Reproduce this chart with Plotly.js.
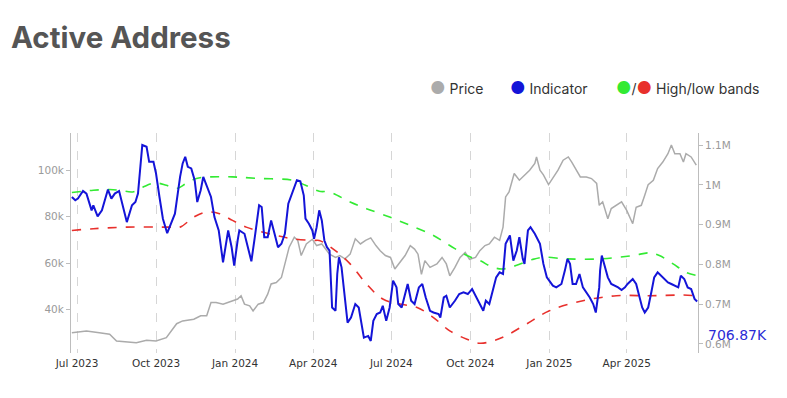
<!DOCTYPE html>
<html>
<head>
<meta charset="utf-8">
<script src="https://cdn.plot.ly/plotly-3.0.1.min.js"></script>
<style>html,body{margin:0;padding:0;background:#fff;}#chart{width:787px;height:398px;}</style>
</head>
<body>
<div id="chart"></div>
<script>
// ---- Data ----
const chartTitle = 'Active Address';
const legendNames = ['Price', 'Indicator', 'High/low bands'];

const priceDates = ['2023-06-25','2023-07-12','2023-07-27','2023-08-08','2023-08-16','2023-08-28','2023-09-08','2023-09-20','2023-10-01','2023-10-13','2023-10-21','2023-10-25','2023-11-01','2023-11-14','2023-11-22','2023-11-29','2023-12-04','2023-12-10','2023-12-18','2023-12-24','2023-12-29','2024-01-04','2024-01-08','2024-01-12','2024-01-18','2024-01-22','2024-01-28','2024-02-03','2024-02-08','2024-02-12','2024-02-18','2024-02-24','2024-02-29','2024-03-04','2024-03-10','2024-03-14','2024-03-18','2024-03-24','2024-03-31','2024-04-05','2024-04-11','2024-04-15','2024-04-20','2024-04-27','2024-05-02','2024-05-08','2024-05-14','2024-05-20','2024-05-26','2024-06-01','2024-06-07','2024-06-13','2024-06-18','2024-06-24','2024-06-30','2024-07-05','2024-07-11','2024-07-17','2024-07-23','2024-07-28','2024-08-01','2024-08-05','2024-08-09','2024-08-15','2024-08-23','2024-08-29','2024-09-03','2024-09-07','2024-09-13','2024-09-19','2024-09-25','2024-09-30','2024-10-07','2024-10-12','2024-10-18','2024-10-23','2024-10-29','2024-11-04','2024-11-08','2024-11-11','2024-11-15','2024-11-21','2024-11-27','2024-12-03','2024-12-09','2024-12-15','2024-12-17','2024-12-21','2024-12-25','2024-12-31','2025-01-05','2025-01-11','2025-01-17','2025-01-23','2025-01-27','2025-02-01','2025-02-06','2025-02-13','2025-02-19','2025-02-25','2025-02-28','2025-03-04','2025-03-10','2025-03-14','2025-03-20','2025-03-26','2025-04-01','2025-04-06','2025-04-08','2025-04-12','2025-04-18','2025-04-22','2025-04-26','2025-05-02','2025-05-07','2025-05-13','2025-05-19','2025-05-23','2025-05-27','2025-06-02','2025-06-06','2025-06-09','2025-06-15','2025-06-21'];
const priceValues = [30.1,30.9,30.1,29.5,26.6,26.3,25.8,26.9,26.6,28.0,32.3,34.0,35.2,35.9,37.4,37.4,43.1,43.1,42.4,43.1,43.8,44.6,46.0,42.4,41.7,39.5,42.4,43.1,46.7,51.1,51.7,53.9,61.1,66.9,71.2,69.8,63.3,68.3,70.3,67.6,68.3,66.1,63.9,62.5,63.3,61.9,63.9,70.5,68.3,69.8,70.9,67.6,65.4,63.3,62.5,57.5,60.4,63.3,67.6,66.1,63.9,55.2,61.1,58.2,59.7,62.5,59.7,54.6,58.2,62.5,64.6,61.7,62.5,65.4,67.6,68.3,71.2,69.8,75.5,88.5,90.7,98.6,95.7,97.8,100,102.9,105.7,100,98.0,93.8,96.4,100,104.3,105.7,103.5,100,97.1,97.1,96.4,94.3,84.9,86.4,79.1,83.5,84.9,86.4,82.7,79.1,77.0,84.1,84.9,89.2,93.8,95.7,100.7,103.5,107.1,110.8,107.1,107.1,103.5,107.1,105.7,102.2];

const indDates = ['2023-06-25','2023-06-29','2023-07-02','2023-07-08','2023-07-12','2023-07-18','2023-07-20','2023-07-25','2023-07-30','2023-08-06','2023-08-10','2023-08-14','2023-08-19','2023-08-24','2023-08-28','2023-09-03','2023-09-07','2023-09-10','2023-09-15','2023-09-20','2023-09-23','2023-09-28','2023-10-01','2023-10-05','2023-10-09','2023-10-14','2023-10-17','2023-10-23','2023-10-29','2023-11-01','2023-11-04','2023-11-07','2023-11-11','2023-11-15','2023-11-18','2023-11-22','2023-11-25','2023-11-30','2023-12-04','2023-12-08','2023-12-13','2023-12-18','2023-12-22','2023-12-24','2023-12-28','2023-12-31','2024-01-04','2024-01-06','2024-01-12','2024-01-16','2024-01-20','2024-01-24','2024-01-29','2024-02-01','2024-02-04','2024-02-08','2024-02-12','2024-02-16','2024-02-20','2024-02-24','2024-02-28','2024-03-03','2024-03-07','2024-03-13','2024-03-17','2024-03-21','2024-03-23','2024-03-27','2024-03-31','2024-04-02','2024-04-05','2024-04-08','2024-04-11','2024-04-14','2024-04-17','2024-04-20','2024-04-23','2024-04-27','2024-04-29','2024-05-01','2024-05-04','2024-05-08','2024-05-11','2024-05-15','2024-05-20','2024-05-24','2024-05-27','2024-05-30','2024-06-04','2024-06-07','2024-06-10','2024-06-14','2024-06-18','2024-06-21','2024-06-25','2024-06-29','2024-07-03','2024-07-07','2024-07-09','2024-07-13','2024-07-17','2024-07-20','2024-07-24','2024-07-28','2024-08-02','2024-08-06','2024-08-10','2024-08-15','2024-08-19','2024-08-25','2024-08-27','2024-08-31','2024-09-03','2024-09-07','2024-09-13','2024-09-18','2024-09-23','2024-09-28','2024-10-03','2024-10-08','2024-10-14','2024-10-16','2024-10-19','2024-10-23','2024-10-27','2024-10-31','2024-11-04','2024-11-08','2024-11-11','2024-11-16','2024-11-20','2024-11-24','2024-11-27','2024-12-01','2024-12-03','2024-12-07','2024-12-10','2024-12-15','2024-12-21','2024-12-25','2024-12-29','2025-01-01','2025-01-05','2025-01-09','2025-01-15','2025-01-19','2025-01-22','2025-01-25','2025-01-28','2025-02-01','2025-02-05','2025-02-09','2025-02-13','2025-02-17','2025-02-21','2025-02-24','2025-02-28','2025-03-01','2025-03-03','2025-03-06','2025-03-10','2025-03-14','2025-03-18','2025-03-22','2025-03-26','2025-03-30','2025-04-02','2025-04-08','2025-04-12','2025-04-16','2025-04-19','2025-04-22','2025-04-26','2025-04-30','2025-05-03','2025-05-07','2025-05-11','2025-05-15','2025-05-19','2025-05-23','2025-05-27','2025-05-31','2025-06-03','2025-06-07','2025-06-11','2025-06-15','2025-06-19','2025-06-22'];
const indValues = [969.4,961.1,965.4,984.6,978.0,935.9,948.5,920.7,935.9,988.1,965.4,978.0,984.6,944.2,906.3,948.5,956.8,978.0,1100,1095.7,1057.8,1057.8,1028.5,969.4,914.9,878.5,893.7,927.5,1019.9,1053.8,1070.4,1045.2,1041.2,1011.6,956.8,986.4,1019.9,990.7,969.4,918.9,885.4,805.3,851.8,885.4,843.2,797.0,860.1,885.4,877.0,843.2,807.8,868.4,948.5,944.2,868.4,868.4,910.6,877.0,843.2,851.8,877.0,952.8,978.0,1011.6,1009,973.7,914.9,902.3,885.4,864.4,893.7,935.9,910.6,860.1,843.2,834.9,691.7,683.4,776.0,817.9,792.7,716.9,653.8,666.4,700.3,691.7,649.8,615.9,620.2,607.6,658.1,675.0,679.1,696.0,658.1,691.7,759.1,742.2,700.3,691.7,725.5,750.8,708.6,700.3,742.2,750.8,716.9,683.4,679.1,675.0,666.4,716.9,721.2,691.7,708.6,725.5,729.6,725.5,738.2,716.9,691.7,683.4,708.6,700.3,733.9,767.4,780.1,776.0,851.8,872.7,809.6,834.9,868.4,813.9,801.3,885.4,893.7,877.0,851.8,801.3,767.4,759.1,746.5,742.2,750.8,784.4,813.9,801.3,750.8,750.8,776.0,742.2,729.6,716.9,700.3,679.1,742.2,784.4,822.2,801.3,767.4,750.8,746.5,742.2,735.6,742.2,750.8,763.4,750.8,716.9,691.7,679.1,691.7,733.9,767.4,780.1,771.8,763.4,754.8,750.8,746.5,742.2,771.8,763.4,742.2,738.2,713.3,706.87];

const highDates = ['2023-06-25','2023-07-20','2023-08-08','2023-08-20','2023-09-04','2023-09-16','2023-09-30','2023-10-13','2023-10-25','2023-11-05','2023-11-17','2023-12-02','2023-12-29','2024-01-30','2024-03-08','2024-03-23','2024-04-08','2024-04-20','2024-05-14','2024-06-02','2024-06-29','2024-07-23','2024-08-19','2024-09-07','2024-09-27','2024-10-12','2024-10-27','2024-11-08','2024-11-23','2024-12-12','2024-12-25','2025-01-21','2025-03-01','2025-04-08','2025-04-28','2025-05-09','2025-05-25','2025-06-09','2025-06-22'];
const highValues = [980.6,986.4,988.1,986.4,982.1,994.7,1004.8,999,990.7,1003.3,1015.9,1019.9,1019.9,1015.9,1011.6,999,983.8,982.1,956.8,940.2,918.9,898.0,872.7,847.5,822.2,809.6,792.7,788.7,797.0,812.2,817.9,813.9,813.9,822.2,829.1,822.2,801.3,780.1,771.7];

const lowDates = ['2023-06-25','2023-07-20','2023-08-28','2023-10-17','2023-10-29','2023-11-14','2023-11-29','2023-12-14','2023-12-29','2024-01-14','2024-01-30','2024-02-18','2024-03-08','2024-04-01','2024-04-08','2024-04-24','2024-05-14','2024-06-02','2024-06-21','2024-07-11','2024-07-31','2024-08-19','2024-09-07','2024-09-27','2024-10-12','2024-10-27','2024-11-11','2024-12-05','2025-01-01','2025-02-09','2025-03-20','2025-04-28','2025-06-05','2025-06-22'];
const lowValues = [885.4,889.7,893.7,893.7,893.7,918.9,931.6,927.5,910.6,893.7,882.8,872.7,864.4,860.1,860.1,839.2,801.3,750.8,712.9,700.3,691.7,666.4,632.9,611.9,601.8,607.6,620.2,649.8,683.4,708.6,721.2,721.2,723,721.2];

const priceTickVals = [40, 60, 80, 100];
const priceTickText = ['40k', '60k', '80k', '100k'];
const indTickVals = [600, 700, 800, 900, 1000, 1100];
const indTickText = ['0.6M', '0.7M', '0.8M', '0.9M', '1M', '1.1M'];

// ---- Styles ----
const cGrey = '#ababab', cBlue = '#1414d8', cGreen = '#33ea33', cRed = '#e8302c';
const tickFont = {family: 'DejaVu Sans, Verdana, sans-serif', size: 10.5, color: '#9a9a9a'};

const traces = [
  {x: priceDates, y: priceValues, name: legendNames[0], type: 'scatter', mode: 'lines', yaxis: 'y',
   line: {color: cGrey, width: 1.5}},
  {x: highDates, y: highValues, name: 'High band', type: 'scatter', mode: 'lines', yaxis: 'y2',
   line: {color: cGreen, width: 1.6, dash: 'dash', shape: 'spline', smoothing: 1}},
  {x: lowDates, y: lowValues, name: 'Low band', type: 'scatter', mode: 'lines', yaxis: 'y2',
   line: {color: cRed, width: 1.6, dash: 'dash', shape: 'spline', smoothing: 1}},
  {x: indDates, y: indValues, name: legendNames[1], type: 'scatter', mode: 'lines', yaxis: 'y2',
   line: {color: cBlue, width: 2}}
];

const lastVal = indValues[indValues.length - 1];
const dot = (c) => '<span style="color:' + c + ';font-size:17px">●</span>';
const legendFont = {family: 'Inter, sans-serif', size: 14, color: '#333'};

const layout = {
  width: 787, height: 398,
  margin: {l: 71, r: 89, t: 133, b: 45},
  paper_bgcolor: '#fff', plot_bgcolor: '#fff',
  showlegend: false,
  hovermode: false,
  title: {text: chartTitle, x: 11/787, xanchor: 'left', xref: 'container', y: 1 - 38/398, yanchor: 'middle', yref: 'container',
          font: {family: 'Inter, sans-serif', size: 29.5, color: '#555', weight: 700}},
  xaxis: {type: 'date', range: ['2023-06-24', '2025-06-23'], tick0: '2023-07-01', dtick: 'M3', tickformat: '%b %Y',
          showgrid: true, gridcolor: '#d6d6d6', griddash: 'dash', gridwidth: 1, showline: false, zeroline: false, ticks: '',
          ticklabelstandoff: 2,
          tickfont: {family: 'DejaVu Sans, Verdana, sans-serif', size: 10.5, color: '#333'}},
  yaxis: {range: [21.4, 116], tickvals: priceTickVals, ticktext: priceTickText, showgrid: false, zeroline: false,
          showline: true, linecolor: '#bdbdbd', linewidth: 1, ticks: 'outside', ticklen: 4, tickcolor: '#bdbdbd', tickfont: tickFont},
  yaxis2: {range: [577.3, 1130.3], overlaying: 'y', side: 'right', tickvals: indTickVals, ticktext: indTickText,
           showgrid: false, zeroline: false, showline: true, linecolor: '#bdbdbd', linewidth: 1, ticks: 'outside', ticklen: 4,
           tickcolor: '#bdbdbd', tickfont: tickFont},
  annotations: [
    {xref: 'paper', yref: 'paper', x: 1, y: 0.08, xanchor: 'left', yanchor: 'middle', xshift: 8, showarrow: false,
     text: (lastVal).toFixed(2) + 'K', font: {family: 'DejaVu Sans, Verdana, sans-serif', size: 14, color: '#2b2bd6'}},
    {xref: 'paper', yref: 'paper', x: (428-71)/627, y: 1.2045, xanchor: 'left', yanchor: 'middle', showarrow: false,
     text: dot(cGrey) + ' ' + legendNames[0], font: legendFont},
    {xref: 'paper', yref: 'paper', x: (508-71)/627, y: 1.2045, xanchor: 'left', yanchor: 'middle', showarrow: false,
     text: dot(cBlue) + ' ' + legendNames[1], font: legendFont},
    {xref: 'paper', yref: 'paper', x: (614-71)/627, y: 1.2045, xanchor: 'left', yanchor: 'middle', showarrow: false,
     text: dot(cGreen) + '/' + dot(cRed) + ' ' + legendNames[2], font: legendFont}
  ]
};

Plotly.newPlot('chart', traces, layout, {displayModeBar: false, staticPlot: true});
</script>
</body>
</html>
